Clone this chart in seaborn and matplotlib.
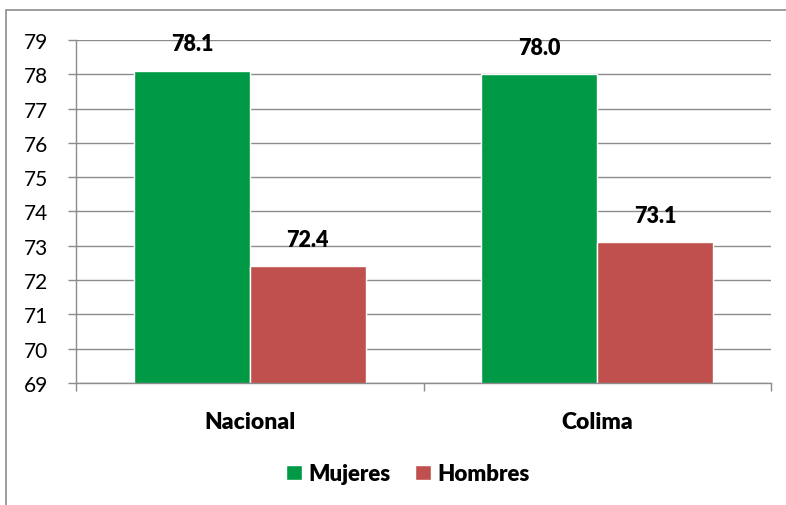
import matplotlib
matplotlib.use("Agg")
import matplotlib.pyplot as plt
import pandas as pd
import seaborn as sns
from matplotlib.patches import Rectangle
from matplotlib.ticker import FixedLocator

categories = ["Nacional", "Colima"]
mujeres = [78.1, 78.0]
hombres = [72.4, 73.1]
series_names = ["Mujeres", "Hombres"]
y_ticks = list(range(69, 80))

GREEN = "#009A46"
RED = "#C0504D"
GRID = "#8C8C8C"
BOLD = "heavy"

df = pd.DataFrame({
    "region": categories * 2,
    "sexo": [series_names[0]] * 2 + [series_names[1]] * 2,
    "valor": mujeres + hombres,
})

sns.set_theme(style="white")
plt.rcParams["font.family"] = ["Lato", "DejaVu Sans"]
plt.rcParams["text.color"] = "black"
plt.rcParams["xtick.labelcolor"] = "black"
plt.rcParams["ytick.labelcolor"] = "black"

fig = plt.figure(figsize=(7.86, 5.06), dpi=100)
ax = fig.add_axes([0.0967, 0.2411, 0.8843, 0.6779])

sns.barplot(
    data=df, x="region", y="valor", hue="sexo",
    palette=[GREEN, RED], width=0.667, gap=0, saturation=1,
    ax=ax, legend=True,
)

# data labels above each bar
for container in ax.containers:
    texts = ax.bar_label(container, fmt="%.1f", padding=12, color="black")
    for t in texts:
        t.set_fontsize(15.5)
        t.set_fontweight(BOLD)

ax.set_ylim(69, 79)
ax.set_xlim(-0.5, 1.5)
ax.set_yticks(y_ticks)
ax.yaxis.grid(True, color=GRID, linewidth=1)
ax.set_axisbelow(True)
ax.set_xlabel("")
ax.set_ylabel("")

for side in ["top", "right"]:
    ax.spines[side].set_visible(False)
for side in ["left", "bottom"]:
    ax.spines[side].set_color(GRID)
    ax.spines[side].set_linewidth(1)

ax.tick_params(axis="y", which="major", left=True, length=6, width=1,
               color=GRID, labelsize=15, pad=14, labelcolor="black")
ax.tick_params(axis="x", which="major", bottom=False, pad=14,
               labelcolor="black")
for lbl in ax.get_xticklabels():
    lbl.set_fontsize(16.5)
    lbl.set_fontweight(BOLD)
ax.xaxis.set_minor_locator(FixedLocator([-0.5, 0.5, 1.5]))
ax.tick_params(axis="x", which="minor", bottom=True, length=6, width=1,
               color=GRID, direction="out")

handles, labels = ax.get_legend_handles_labels()
ax.legend_.remove()
leg = fig.legend(handles, labels, loc="center",
                 bbox_to_anchor=(408 / 786, 31 / 506),
                 ncol=2, frameon=False, handlelength=0.7, handleheight=0.65,
                 handletextpad=0.3, columnspacing=1.1,
                 prop={"size": 16, "weight": BOLD})
for t in leg.get_texts():
    t.set_color("black")

# chart frame (only left and top edges visible in the crop)
fig.patches.append(Rectangle((6 / 786, -0.1), 1.2, (506 - 11) / 506 + 0.1,
                             transform=fig.transFigure, fill=False,
                             edgecolor=GRID, linewidth=1.2, zorder=-1))

fig.savefig("out.png", dpi=100)
